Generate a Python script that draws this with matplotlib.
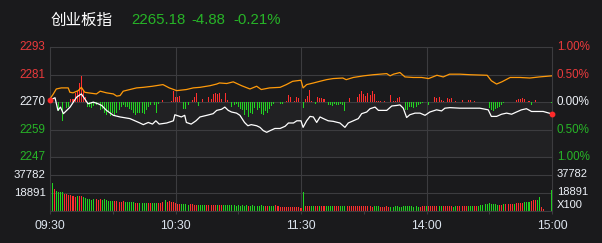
import numpy as np
import matplotlib
matplotlib.use('Agg')
import matplotlib.pyplot as plt

plt.rcParams['font.family'] = ['Liberation Sans', 'Noto Sans CJK SC', 'DejaVu Sans']

# --- data (minutes since 09:30, lunch break removed) ---
name = '创业板指'
last_price = 2265.18
change = -4.88
prev_close = last_price - change

# index line (white), % vs previous close
white_min = [0, 2.4, 3.8, 5, 6.4, 8, 9.6, 12.7, 15, 16.6, 18.2, 20.7, 23, 24.7, 27, 30.3,
             33.5, 38.2, 43, 44.6, 47, 49, 50.6, 52.2, 55.8, 59, 59.7, 62.8, 64.4, 65.2,
             67.5, 69.8, 71.7, 75, 78, 79.7, 82, 83.6, 85.2, 86.8, 89.2, 90.8, 93, 94.6,
             96.2, 98.8, 100.4, 102, 103.6, 105.2, 107.5, 110, 112.4, 114, 116.4, 118,
             120, 121, 122.7, 124.3, 125.9, 127.5, 129.1, 130.7, 133, 135.4, 138.6, 141,
             142.6, 145, 147.4, 149, 151.4, 153, 155.4, 157, 161, 163.4, 165.8, 167.3,
             168.9, 170.5, 172, 174.5, 176.9, 179.3, 181.6, 184.8, 187.2, 188.8, 191.2,
             196, 199, 205.5, 209.5, 211, 213.5, 215.9, 218.3, 220.7, 223, 225.4, 227.8,
             230.2, 232.6, 235.8, 240]
white_pct = [0.04, 0.08, -0.15, -0.09, -0.21, -0.15, -0.09, 0.09, 0.15, 0.06, -0.03, 0.0,
             -0.03, -0.06, -0.15, -0.24, -0.27, -0.30, -0.38, -0.41, -0.37, -0.40, -0.34,
             -0.40, -0.38, -0.34, -0.23, -0.27, -0.24, -0.37, -0.40, -0.34, -0.27, -0.24,
             -0.21, -0.15, -0.13, -0.09, -0.15, -0.18, -0.20, -0.24, -0.37, -0.43, -0.41,
             -0.43, -0.46, -0.52, -0.55, -0.52, -0.48, -0.48, -0.44, -0.38, -0.38, -0.34,
             -0.34, -0.46, -0.34, -0.26, -0.27, -0.37, -0.27, -0.30, -0.34, -0.35, -0.38,
             -0.46, -0.38, -0.34, -0.30, -0.21, -0.18, -0.12, -0.09, -0.15, -0.15, -0.07,
             -0.06, -0.05, -0.11, -0.28, -0.23, -0.20, -0.20, -0.24, -0.18, -0.14, -0.16,
             -0.11, -0.10, -0.11, -0.11, -0.11, -0.14, -0.26, -0.26, -0.22, -0.20, -0.22,
             -0.18, -0.14, -0.12, -0.17, -0.17, -0.17, -0.215]

# unweighted index (orange)
orange_min = [0, 1.6, 3, 5.4, 8.7, 9.5, 11, 13.5, 15, 16.6, 18.2, 22.2, 24, 27, 30.3, 31.9,
              33.5, 35, 38.2, 41.4, 44.6, 49, 54, 57, 60.6, 65.2, 68.5, 71.7, 76.5, 79.7,
              81, 84.5, 87.6, 91.6, 95.6, 98.8, 101, 105, 110, 113, 116, 120, 121, 122.7,
              126, 129, 132.2, 135.4, 140, 141.6, 145, 150, 154.5, 161, 162.6, 164.2,
              167.3, 169.7, 173.7, 177.7, 181, 185, 188, 191, 196, 200.8, 209, 211, 213.5,
              216, 220, 224.7, 229.4, 234, 240]
orange_pct = [0.06, 0.15, 0.24, 0.26, 0.26, 0.18, 0.17, 0.21, 0.27, 0.18, 0.17, 0.15, 0.20,
              0.17, 0.15, 0.11, 0.12, 0.20, 0.23, 0.26, 0.27, 0.29, 0.32, 0.26, 0.21, 0.23,
              0.26, 0.27, 0.30, 0.33, 0.35, 0.34, 0.37, 0.30, 0.24, 0.29, 0.23, 0.26, 0.27,
              0.32, 0.38, 0.40, 0.26, 0.32, 0.35, 0.38, 0.41, 0.43, 0.44, 0.41, 0.45, 0.48,
              0.50, 0.52, 0.48, 0.51, 0.54, 0.46, 0.45, 0.45, 0.43, 0.49, 0.46, 0.51, 0.51,
              0.50, 0.49, 0.39, 0.33, 0.37, 0.45, 0.45, 0.44, 0.46, 0.48]

# red/green strength bars (basis points)
bar_min = [4, 6, 8, 9, 10, 11, 12, 13, 14, 15, 16, 17, 18, 19, 20, 21, 22, 24, 25, 26, 27,
           28, 29, 30, 31, 32, 33, 34, 35, 36, 37, 38, 39, 40, 41, 42, 43, 44, 45, 46, 47,
           48, 50, 51, 52, 54, 58, 59, 60, 61, 62, 64, 65, 66, 68, 69, 70, 71, 73, 76, 77,
           78, 79, 80, 81, 82, 84, 85, 87, 88, 89, 90, 91, 92, 93, 94, 95, 96, 97, 98, 99,
           100, 101, 102, 103, 104, 105, 106, 107, 110, 111, 113, 114, 115, 116, 117, 118,
           119, 121, 122, 123, 124, 125, 127, 128, 129, 130, 131, 133, 134, 135, 136, 137,
           138, 139, 140, 141, 143, 145, 147, 148, 149, 150, 151, 152, 153, 154, 155, 156,
           157, 158, 160, 163, 164, 165, 166, 167, 170, 171, 172, 173, 174, 175, 176, 177,
           178, 181, 184, 185, 186, 187, 188, 190, 191, 192, 194, 197, 200, 201, 203, 210,
           211, 212, 213, 214, 215, 216, 217, 223, 224, 225, 226, 227, 229, 230, 232, 240]
bar_bp = [-17, -34, -11, -8, 6, 5, 16, 20, 35, 48, 22, 10, -8, -8, -11, -7, -5, -14, -12,
          -20, -23, -17, -26, -20, -26, -20, -14, -8, -6, -8, -9, -13, -14, -20, -23, -20,
          -19, -20, -22, -14, -8, -5, -5, -19, -3, 4, 3, 20, 10, 10, 11, -12, -13, -5, 4,
          10, 17, -7, 5, 10, 6, 15, 16, 15, 16, 5, 16, 4, -9, -5, -3, -9, -12, -15, -24,
          -15, -27, -20, -21, -11, -15, -11, -21, -24, -17, -20, -12, -7, -3, -3, -3, 3, 13,
          9, 1, 3, 9, 7, -11, 5, 11, 23, 3, -3, 9, 7, 7, 6, -5, -6, -7, -3, -6, -6, -3, -6,
          -17, 8, 1, 9, 15, 20, 15, 12, 17, 13, 20, 15, 3, 3, 3, 2, 13, 3, 3, 7, 10, -14,
          -14, -8, -8, -11, -8, -5, -4, -2, -5, 10, 7, 9, 4, 2, 7, 6, 7, 3, 4, 4, 4, 2, -11,
          -14, -16, -12, -11, -8, -5, -2, 4, 6, 6, 7, 6, 2, -5, 4, -2]

# volume per minute (x100)
volume = [53400, 29200, 23100, 20600, 19600, 19600, 19400, 17000, 17000, 16500,
          16000, 15500, 14500, 15000, 15500, 15000, 14000, 13000, 12500, 12000,
          11500, 12500, 12000, 11000, 12000, 11500, 12000, 11000, 10500, 10000,
          10500, 10000, 10000, 9500, 9000, 10000, 9500, 9000, 8500, 8800,
          8500, 8000, 8200, 8000, 8000, 7800, 8000, 7500, 7800, 7500,
          7800, 7500, 8000, 7800, 8500, 10700, 9500, 9800, 9500, 9000,
          7500, 6800, 6500, 6800, 6500, 6500, 6300, 6800, 6500, 6200,
          6000, 6300, 6000, 6000, 6000, 5800, 5600, 6000, 5800, 5500,
          5800, 5600, 5500, 5400, 5800, 5500, 5600, 5300, 5400, 5200,
          5400, 5200, 5500, 5000, 5300, 5000, 5200, 5500, 5000, 5200,
          5000, 5300, 5200, 5000, 5000, 5200, 4800, 5000, 5300, 5000,
          4000, 4200, 4000, 3800, 3600, 3800, 3600, 3700, 3600, 3500,
          2800, 19600, 5000, 4800, 4600, 4500, 4800, 4600, 4400, 4500,
          4600, 4400, 4500, 4300, 4600, 4400, 4500, 4300, 4500, 4600,
          4600, 4400, 4300, 4500, 4500, 4300, 4500, 4600, 4400, 4500,
          4400, 4300, 4500, 4300, 4200, 4400, 4500, 4300, 4200, 4100,
          4000, 4300, 4200, 4000, 4200, 4300, 4400, 4000, 4200, 4300,
          4500, 4400, 4300, 4400, 4200, 4300, 4100, 4200, 4300, 4400,
          4400, 4600, 4800, 4600, 4500, 4700, 4400, 4300, 4500, 4400,
          4500, 4400, 4300, 4200, 4300, 4500, 4400, 4600, 4500, 4400,
          4600, 4800, 5000, 5200, 4800, 5000, 5500, 6200, 7000, 6800,
          7800, 7200, 6800, 6500, 6300, 6000, 6200, 6600, 6800, 6400,
          7000, 7200, 7000, 7500, 7500, 7800, 8000, 8500, 8800, 9300,
          10000, 10700, 11400, 11400, 14200, 3600, 1800, 0, 0, 0,
          21300]
vol_color = ('RGRGGGGRRR' 'RRRGRRGGGG' 'GGRRRGGGGG' 'GRRRRRGGGG' 'GRRGGGGRRG'
             'GGRRRGRRRR' 'RRRGGGGRRR' 'RGGGGRRRRR' 'GRRGGGGGGG' 'GGGGGRGGGG'
             'GGGRRGGGRR' 'RRRRRRRRRR' 'RGRRRGGRRG' 'RRGGGGRRRG' 'GGRRRRRRRR'
             'RRRRRGGGRR' 'RRRGGGGGGG' 'GGGGGGGRRR' 'GRRRRRGGRR' 'RRRGGRRRRR'
             'GGGRRGGGGG' 'GGGGGRRGRR' 'RRGRRRRGGG' 'RRRGGRRRRR' 'G')

time_ticks = [0, 30, 60, 90, 120, 150, 180, 210, 240]
time_labels = ['09:30', '', '10:30', '', '11:30', '', '14:00', '', '15:00']
pct_levels = [1.0, 0.5, 0.0, -0.5, -1.0]

# --- colours ---
bg = '#1a1a1c'
grid = '#3c3c3f'
red = '#ff2e2e'
green = '#20d420'
red_txt = '#ea3a3c'
green_txt = '#27b427'
white_txt = '#eef2f8'

fig = plt.figure(figsize=(6.02, 2.43), dpi=100, facecolor=bg)
ax = fig.add_axes([50 / 602, 1 - 157 / 243, 502 / 602, 109.7 / 243])
axv = fig.add_axes([50 / 602, 1 - 210.5 / 243, 502 / 602, 53.5 / 243])

for a in (ax, axv):
    a.set_facecolor(bg)
    a.set_xlim(0, 240)
    for s in a.spines.values():
        s.set_color(grid)
        s.set_linewidth(0.8)
    a.set_yticks([])
    for m in (60, 120, 180):
        a.axvline(m, color=grid, lw=0.8, zorder=1)

# one bar = one screen pixel wide
px_min = 240 / 502 * 1.03

# price panel
ax.set_ylim(-1, 1)
ax.axhspan(-1, 0, color='#212123', zorder=0, lw=0)
for p in (0.5, 0.0, -0.5):
    ax.axhline(p, color=grid, lw=0.8, zorder=1)
ax.set_xticks([])

bv = np.array(bar_bp) / 100.0
ax.bar(bar_min, bv, width=px_min, color=[red if v > 0 else green for v in bv],
       linewidth=0, antialiased=False, zorder=2)
ax.plot(orange_min, orange_pct, color='#ff9a0a', lw=0.9, zorder=3)
ax.plot(white_min, white_pct, color='white', lw=0.9, zorder=4)
ax.plot([white_min[0], white_min[-1]], [white_pct[0], white_pct[-1]], 'o',
        color='#ff2a2a', ms=3.2, zorder=5, clip_on=False)

ytr = ax.get_yaxis_transform()
for p in pct_levels:
    c = red_txt if p > 0 else (green_txt if p < 0 else white_txt)
    ax.text(-0.009, p, f'{prev_close * (1 + p / 100):.0f}', transform=ytr,
            ha='right', va='center', color=c, fontsize=8.4)
    ax.text(1.0095, p, f'{abs(p):.2f}%', transform=ytr,
            ha='left', va='center', color=c, fontsize=8.4)

# volume panel
vmax = 18891 * 3
axv.set_ylim(0, vmax)
for v in (18891, 37782):
    axv.axhline(v, color=grid, lw=0.8, zorder=1)
mins = np.arange(len(volume))
axv.bar(mins, volume, width=px_min, color=[red if c == 'R' else green for c in vol_color],
        linewidth=0, antialiased=False, zorder=2)
axv.set_xticks(time_ticks)
axv.set_xticklabels([])
axv.tick_params(axis='x', direction='out', length=2.5, width=0.8, color=grid)

vtr = axv.get_yaxis_transform()
for v in (18891, 37782):
    axv.text(-0.009, v, str(v), transform=vtr, ha='right', va='center',
             color=white_txt, fontsize=8.2)
    axv.text(1.0095, v + 500, str(v), transform=vtr, ha='left', va='center',
             color=white_txt, fontsize=8.0)
axv.text(1.0095, 18891 * 0.30, 'X100', transform=vtr, ha='left', va='center',
         color=white_txt, fontsize=8.0)

xtr = axv.get_xaxis_transform()
for m, lab in zip(time_ticks, time_labels):
    if lab:
        axv.text(m, -0.29, lab, transform=xtr, ha='center', va='center',
                 color='#dce4ee', fontsize=8.8)

# header
fig.text(51 / 602, 1 - 20 / 243, name, color='white', fontsize=11.2,
         family=['Noto Sans CJK SC', 'DejaVu Sans'], ha='left', va='center')
pct_chg = change / prev_close * 100
fig.text(131 / 602, 1 - 20.5 / 243, f'{last_price:.2f}', color=green_txt,
         fontsize=10.8, ha='left', va='center')
fig.text(191 / 602, 1 - 20.5 / 243, f'{change:.2f}', color=green_txt,
         fontsize=10.8, ha='left', va='center')
fig.text(233 / 602, 1 - 20.5 / 243, f'{pct_chg:.2f}%', color=green_txt,
         fontsize=10.8, ha='left', va='center')

fig.savefig('out.png', dpi=100, facecolor=bg)
